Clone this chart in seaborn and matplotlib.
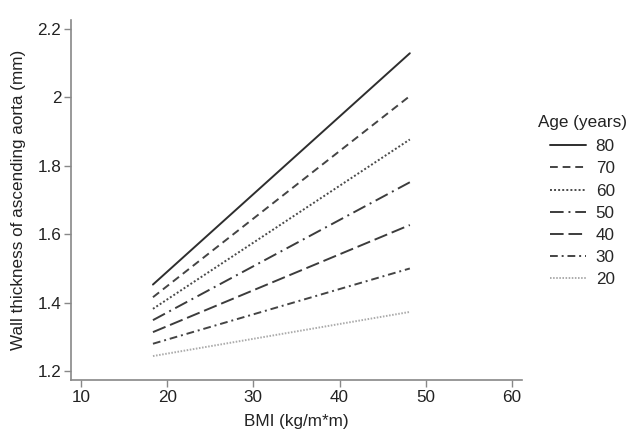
import numpy as np
import pandas as pd
import matplotlib
matplotlib.use("Agg")
import matplotlib.pyplot as plt
import seaborn as sns

# predicted wall thickness at the ends of the BMI range, per age group
ages = [80, 70, 60, 50, 40, 30, 20]
bmi_range = [18.35, 48.15]
wall_at_low = [1.453, 1.416, 1.382, 1.349, 1.314, 1.280, 1.244]
wall_at_high = [2.129, 2.004, 1.877, 1.752, 1.627, 1.500, 1.373]

rows = []
for a, lo, hi in zip(ages, wall_at_low, wall_at_high):
    rows.append({"BMI": bmi_range[0], "wall": lo, "Age": str(a)})
    rows.append({"BMI": bmi_range[1], "wall": hi, "Age": str(a)})
df = pd.DataFrame(rows)

sns.set_style("white")
plt.rcParams["font.family"] = ["Liberation Sans", "DejaVu Sans"]

# dash patterns in units of line width
line_dashes = {
    "80": "",
    "70": (4, 2.5),
    "60": (1, 1.1),
    "50": (7, 2.5, 1, 2.5),
    "40": (7, 2.5),
    "30": (4, 2, 1, 2),
    "20": (0.8, 0.8),
}
line_colors = {
    "80": "#2e2e2e",
    "70": "#444444",
    "60": "#4a4a4a",
    "50": "#3c3c3c",
    "40": "#3c3c3c",
    "30": "#444444",
    "20": "#ababab",
}

fig = plt.figure(figsize=(6.27, 4.29), dpi=100)
ax = fig.add_axes([0.1132, 0.1142, 0.7193, 0.839])

sns.lineplot(data=df, x="BMI", y="wall", hue="Age", style="Age",
             hue_order=[str(a) for a in ages], style_order=[str(a) for a in ages],
             palette=line_colors, dashes=line_dashes, linewidth=1.4, ax=ax)

ax.set_xlim(8.84, 61.16)
ax.set_ylim(1.174, 2.226)
ax.set_xticks([10, 20, 30, 40, 50, 60])
ax.set_yticks([1.2, 1.4, 1.6, 1.8, 2.0, 2.2])
ax.set_yticklabels(["1.2", "1.4", "1.6", "1.8", "2", "2.2"])
ax.set_xlabel("BMI (kg/m*m)", fontsize=12.3, color="#222222", labelpad=7)
ax.set_ylabel("Wall thickness of ascending aorta (mm)", fontsize=12.3,
              color="#222222", labelpad=8)
ax.tick_params(axis="both", direction="out", length=5, width=1, color="#888888",
               labelsize=12.3, labelcolor="#222222", bottom=True, left=True, pad=2)
for s in ["top", "right"]:
    ax.spines[s].set_visible(False)
for s in ["left", "bottom"]:
    ax.spines[s].set_color("#888888")
    ax.spines[s].set_linewidth(1.2)

handles, labels = ax.get_legend_handles_labels()
leg = ax.legend(handles, labels, loc="upper left",
                bbox_to_anchor=(1.062, 0.669), frameon=False, fontsize=12.3,
                borderpad=0, borderaxespad=0, handlelength=2.1,
                labelspacing=0.42, handletextpad=0.58)
ax.text(1.0355, 0.7167, "Age (years)", transform=ax.transAxes, fontsize=12.3,
        color="#222222", va="center", ha="left")

fig.savefig("out.png", dpi=100, facecolor="white")
